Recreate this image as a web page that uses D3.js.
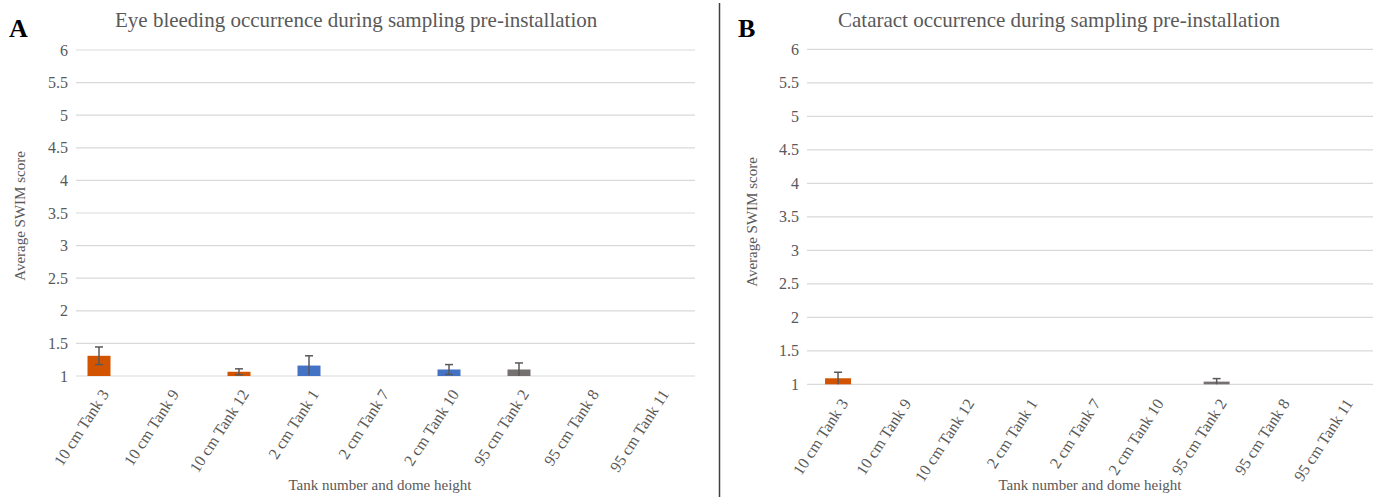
<!DOCTYPE html>
<html>
<head>
<meta charset="utf-8">
<script src="https://cdn.jsdelivr.net/npm/d3@7"></script>
<style>
  html, body { margin: 0; padding: 0; background: #fff; }
  svg { display: block; font-family: "Liberation Serif", "Times New Roman", serif; }
</style>
</head>
<body>
<svg id="chart" width="1378" height="499"></svg>
<script>
// Tank categories (dome height + tank number), shared by both panels
const tanks = ["10 cm Tank 3", "10 cm Tank 9", "10 cm Tank 12",
               "2 cm Tank 1", "2 cm Tank 7", "2 cm Tank 10",
               "95 cm Tank 2", "95 cm Tank 8", "95 cm Tank 11"];
const domeGroups = ["10 cm", "2 cm", "95 cm"];
const groupColors = ["#D35400", "#4472C4", "#767171"];

// Panel A: eye bleeding, mean SWIM score and error
const eyeBleedMean = [1.31, 1.00, 1.065, 1.16, 1.00, 1.10, 1.10, 1.00, 1.00];
const eyeBleedErr  = [0.135, 0, 0.045, 0.15, 0, 0.075, 0.10, 0, 0];

// Panel B: cataract, mean SWIM score and error
const cataractMean = [1.09, 1.00, 1.00, 1.00, 1.00, 1.00, 1.04, 1.00, 1.00];
const cataractErr  = [0.09, 0, 0, 0, 0, 0, 0.045, 0, 0];

const yTicks = [1, 1.5, 2, 2.5, 3, 3.5, 4, 4.5, 5, 5.5, 6];

const svg = d3.select("#chart");
const color = d3.scaleOrdinal().domain(domeGroups).range(groupColors);
const groupOf = t => t.split(" cm")[0] + " cm";

function panel(cfg) {
  const g = svg.append("g");
  const y = d3.scaleLinear().domain([1, 6]).range([cfg.yBottom, cfg.yTop]);
  const x = d3.scaleBand().domain(tanks).range(cfg.xRange).padding(0);

  // horizontal gridlines
  g.append("g").selectAll("line").data(yTicks).join("line")
    .attr("x1", cfg.gridX[0]).attr("x2", cfg.gridX[1])
    .attr("y1", d => y(d)).attr("y2", d => y(d))
    .attr("stroke", "#D9D9D9").attr("stroke-width", 1.2);

  // y axis tick labels
  const yAxis = d3.axisLeft(y).tickValues(yTicks).tickSize(0).tickPadding(0)
    .tickFormat(d3.format("~g"));
  const ya = g.append("g").attr("transform", `translate(${cfg.gridX[0] - 8},0)`).call(yAxis);
  ya.select(".domain").remove();
  ya.selectAll("text").attr("fill", "#595959").style("font-size", "16px")
    .style("font-family", "Liberation Serif, serif");

  // bars
  const rows = tanks.map((t, i) => ({ t, m: cfg.mean[i], e: cfg.err[i] }));
  g.append("g").selectAll("rect").data(rows.filter(d => d.m > 1)).join("rect")
    .attr("x", d => x(d.t) + (x.bandwidth() - cfg.barW) / 2)
    .attr("width", cfg.barW)
    .attr("y", d => y(d.m))
    .attr("height", d => y(1) - y(d.m))
    .attr("fill", d => color(groupOf(d.t)));

  // error bars
  const eb = g.append("g").selectAll("g").data(rows.filter(d => d.e > 0)).join("g")
    .attr("stroke", "#595959").attr("stroke-width", 1.5);
  const cx = d => x(d.t) + x.bandwidth() / 2;
  eb.append("line")
    .attr("x1", cx).attr("x2", cx)
    .attr("y1", d => y(Math.max(1, d.m - d.e))).attr("y2", d => y(d.m + d.e));
  eb.append("line")
    .attr("x1", d => cx(d) - 4).attr("x2", d => cx(d) + 4)
    .attr("y1", d => y(d.m + d.e)).attr("y2", d => y(d.m + d.e));
  eb.filter(d => d.m - d.e > 1.015).append("line")
    .attr("x1", d => cx(d) - 4).attr("x2", d => cx(d) + 4)
    .attr("y1", d => y(d.m - d.e)).attr("y2", d => y(d.m - d.e));

  // rotated category labels
  const xAxis = d3.axisBottom(x).tickSize(0).tickPadding(0);
  const xa = g.append("g").attr("transform", `translate(0,${cfg.yBottom})`).call(xAxis);
  xa.select(".domain").remove();
  xa.selectAll("text")
    .attr("fill", "#595959").style("font-size", "16px")
    .style("font-family", "Liberation Serif, serif")
    .attr("text-anchor", "end").attr("dy", "0.35em")
    .attr("transform", `translate(6,${cfg.labelDy}) rotate(-57)`)
    .attr("y", 0);

  // axis titles
  g.append("text")
    .attr("transform", `translate(${cfg.yTitleX},${cfg.yTitleY}) rotate(-90)`)
    .attr("text-anchor", "middle").attr("dy", "0.35em")
    .attr("fill", "#595959").style("font-size", "15px")
    .text("Average SWIM score");
  g.append("text")
    .attr("x", cfg.xTitleX).attr("y", 490)
    .attr("text-anchor", "middle")
    .attr("fill", "#595959").style("font-size", "15px")
    .text("Tank number and dome height");

  // chart title and panel letter
  g.append("text")
    .attr("x", cfg.titleX).attr("y", 27)
    .attr("fill", "#595959").style("font-size", "21px")
    .text(cfg.title);
  g.append("text")
    .attr("x", cfg.letterX).attr("y", 37)
    .attr("fill", "#000").style("font-size", "26px").style("font-weight", "bold")
    .text(cfg.letter);
}

panel({
  letter: "A", letterX: 9,
  title: "Eye bleeding occurrence during sampling pre-installation", titleX: 115,
  mean: eyeBleedMean, err: eyeBleedErr,
  yTop: 50, yBottom: 376, gridX: [76, 695], xRange: [64, 694], barW: 23,
  labelDy: 15, yTitleX: 20, yTitleY: 216, xTitleX: 380
});

panel({
  letter: "B", letterX: 738,
  title: "Cataract occurrence during sampling pre-installation", titleX: 838,
  mean: cataractMean, err: cataractErr,
  yTop: 49.3, yBottom: 384.3, gridX: [807, 1373], xRange: [806.5, 1374.4], barW: 26,
  labelDy: 16, yTitleX: 752, yTitleY: 222, xTitleX: 1090
});

// divider between the two panels
svg.append("line")
  .attr("x1", 719.5).attr("x2", 719.5).attr("y1", 3).attr("y2", 497)
  .attr("stroke", "#404040").attr("stroke-width", 1.5);
</script>
</body>
</html>
